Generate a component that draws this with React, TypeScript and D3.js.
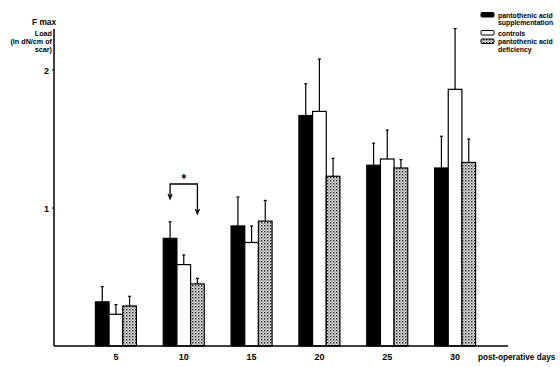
import * as d3 from 'd3';
import { useEffect, useRef } from 'react';

const days = ['5', '10', '15', '20', '25', '30'];
const series = ['supplementation', 'controls', 'deficiency'];
const supplementation = [0.32, 0.78, 0.87, 1.67, 1.31, 1.29];
const supplementationErr = [0.11, 0.12, 0.21, 0.23, 0.16, 0.23];
const controls = [0.23, 0.59, 0.75, 1.7, 1.355, 1.86];
const controlsErr = [0.07, 0.07, 0.12, 0.38, 0.21, 0.44];
const deficiency = [0.29, 0.45, 0.905, 1.23, 1.29, 1.33];
const deficiencyErr = [0.07, 0.04, 0.15, 0.13, 0.06, 0.17];
const yTicks = [1, 2];
const legendLabels = [
  ['pantothenic acid', 'supplementation'],
  ['controls'],
  ['pantothenic acid', 'deficiency'],
];

const W = 560;
const H = 367;
const FONT = '"Liberation Sans", Arial, sans-serif';

export default function App() {
  const svgRef = useRef<SVGSVGElement>(null);

  useEffect(() => {
    const svg = d3.select(svgRef.current);
    svg.selectAll('*').remove();

    const values = [supplementation, controls, deficiency];
    const errs = [supplementationErr, controlsErr, deficiencyErr];
    const fills = ['#000', '#fff', 'url(#dots)'];

    // stipple pattern for the deficiency bars
    const pat = svg
      .append('defs')
      .append('pattern')
      .attr('id', 'dots')
      .attr('width', 3)
      .attr('height', 3)
      .attr('patternUnits', 'userSpaceOnUse');
    pat.append('rect').attr('width', 3).attr('height', 3).attr('fill', '#eee');
    pat.append('rect').attr('x', 0).attr('y', 0).attr('width', 1.4).attr('height', 1.4).attr('fill', '#111');
    pat.append('rect').attr('x', 1.5).attr('y', 1.5).attr('width', 1.2).attr('height', 1.2).attr('fill', '#555');

    const x = d3.scaleBand().domain(days).range([82, 489]);
    const xs = d3.scaleBand().domain(series).range([-20.5, 20.5]);
    const y = d3.scaleLinear().domain([0, 2]).range([346, 70]);

    const g = svg.append('g');

    // bars
    series.forEach((s, si) => {
      g.selectAll(`.bar-${si}`)
        .data(days)
        .join('rect')
        .attr('x', (d) => x(d)! + x.bandwidth() / 2 + xs(s)!)
        .attr('y', (d, i) => y(values[si][i]))
        .attr('width', xs.bandwidth())
        .attr('height', (d, i) => y(0) - y(values[si][i]))
        .attr('fill', fills[si])
        .attr('stroke', '#000')
        .attr('stroke-width', 1.2);

      // error bars (upper only)
      const cx = (d: string) => x(d)! + x.bandwidth() / 2 + xs(s)! + xs.bandwidth() / 2;
      g.selectAll(`.err-${si}`)
        .data(days)
        .join('line')
        .attr('x1', cx)
        .attr('x2', cx)
        .attr('y1', (d, i) => y(values[si][i]))
        .attr('y2', (d, i) => y(values[si][i] + errs[si][i]))
        .attr('stroke', '#000')
        .attr('stroke-width', 1.2);
      g.selectAll(`.cap-${si}`)
        .data(days)
        .join('line')
        .attr('x1', (d) => cx(d) - 1.5)
        .attr('x2', (d) => cx(d) + 1.5)
        .attr('y1', (d, i) => y(values[si][i] + errs[si][i]))
        .attr('y2', (d, i) => y(values[si][i] + errs[si][i]))
        .attr('stroke', '#000')
        .attr('stroke-width', 1.2);
    });

    // axes
    g.append('line').attr('x1', 54).attr('x2', 54).attr('y1', 29).attr('y2', 346).attr('stroke', '#000').attr('stroke-width', 1.5);
    g.append('line').attr('x1', 54).attr('x2', 508).attr('y1', 346).attr('y2', 346).attr('stroke', '#000').attr('stroke-width', 1.5);

    g.selectAll('.ytick')
      .data(yTicks)
      .join('line')
      .attr('x1', 52)
      .attr('x2', 54)
      .attr('y1', (d) => y(d))
      .attr('y2', (d) => y(d))
      .attr('stroke', '#000');
    g.selectAll('.ylab')
      .data(yTicks)
      .join('text')
      .attr('x', 49)
      .attr('y', (d) => y(d) + 3.5)
      .attr('text-anchor', 'end')
      .attr('font-family', FONT)
      .attr('font-weight', 'bold')
      .attr('font-size', 9)
      .text((d) => d);

    g.selectAll('.xlab')
      .data(days)
      .join('text')
      .attr('x', (d) => x(d)! + x.bandwidth() / 2)
      .attr('y', 360)
      .attr('text-anchor', 'middle')
      .attr('font-family', FONT)
      .attr('font-weight', 'bold')
      .attr('font-size', 9)
      .text((d) => d);

    g.append('text')
      .attr('x', 478)
      .attr('y', 359.5)
      .attr('font-family', FONT)
      .attr('font-weight', 'bold')
      .attr('font-size', 8.2)
      .text('post-operative days');

    // y axis title
    const title = ['F max', 'Load', '(in dN/cm of', 'scar)'];
    const titleY = [24.5, 36, 44.2, 52.4];
    title.forEach((t, i) => {
      g.append('text')
        .attr('x', i === 0 ? 56 : 52)
        .attr('y', titleY[i])
        .attr('text-anchor', 'end')
        .attr('font-family', FONT)
        .attr('font-weight', 'bold')
        .attr('font-size', i === 0 ? 8.3 : 7.2)
        .text(t);
    });

    // significance bracket between supplementation and deficiency at day 10
    const bx1 = x('10')! + x.bandwidth() / 2 + xs('supplementation')! + xs.bandwidth() / 2;
    const bx2 = x('10')! + x.bandwidth() / 2 + xs('deficiency')! + xs.bandwidth() / 2;
    const by = 184;
    g.append('path')
      .attr('d', `M${bx1},197 V${by} H${bx2} V212`)
      .attr('fill', 'none')
      .attr('stroke', '#000')
      .attr('stroke-width', 1.3);
    [
      [bx1, 199],
      [bx2, 214],
    ].forEach(([ax, ay]) => {
      g.append('path')
        .attr('d', `M${ax - 2},${ay - 5} L${ax},${ay} L${ax + 2},${ay - 5}`)
        .attr('fill', 'none')
        .attr('stroke', '#000')
        .attr('stroke-width', 1.2);
    });
    g.append('text')
      .attr('x', (bx1 + bx2) / 2)
      .attr('y', 183)
      .attr('text-anchor', 'middle')
      .attr('font-family', FONT)
      .attr('font-weight', 'bold')
      .attr('font-size', 12)
      .text('*');

    // legend
    const ly = [12, 30, 38.5];
    legendLabels.forEach((lines, i) => {
      g.append('rect')
        .attr('x', 481)
        .attr('y', ly[i] + 0.5)
        .attr('width', 13)
        .attr('height', 4.5)
        .attr('rx', 1)
        .attr('fill', fills[i])
        .attr('stroke', '#000')
        .attr('stroke-width', 1);
      lines.forEach((t, j) => {
        g.append('text')
          .attr('x', 498)
          .attr('y', ly[i] + 5.5 + j * 7.8)
          .attr('font-family', FONT)
          .attr('font-weight', 'bold')
          .attr('font-size', 6.9)
          .text(t);
      });
    });
  }, []);

  return <svg ref={svgRef} width={W} height={H} style={{ position: 'absolute', left: 0, top: 0 }} />;
}
